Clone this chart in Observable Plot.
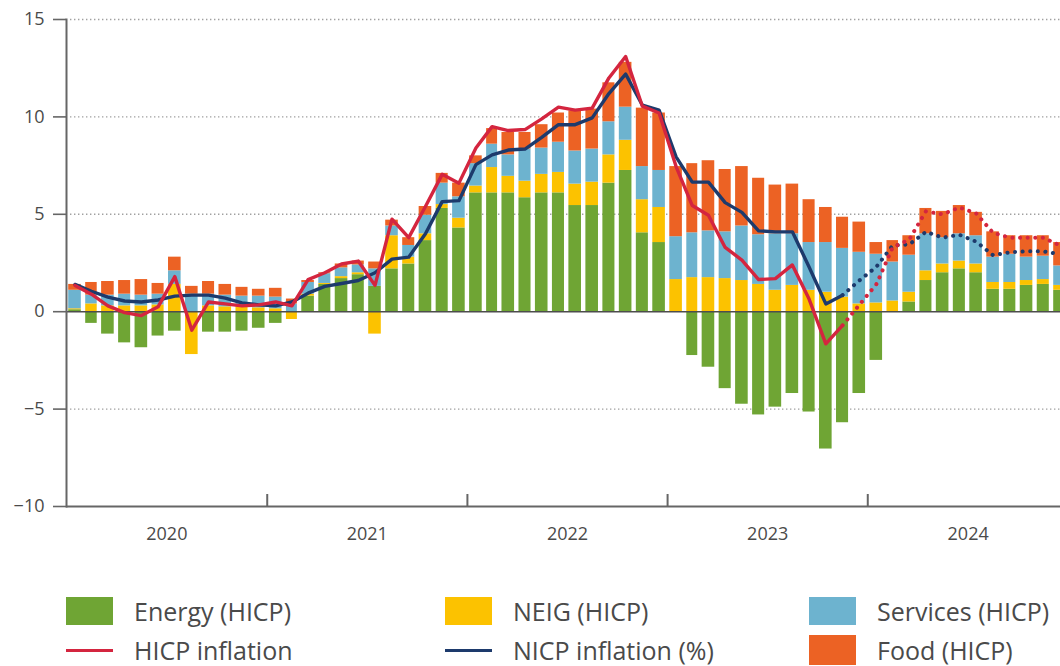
<!DOCTYPE html>
<html><head><meta charset="utf-8">
<script src="https://cdn.jsdelivr.net/npm/d3@7"></script>
<script src="https://cdn.jsdelivr.net/npm/@observablehq/plot@0.6"></script>
<style>
html,body{margin:0;padding:0;background:#fff;overflow:hidden;width:1060px;height:666px;}
#wrap{position:relative;width:1060px;height:666px;font-family:"Open Sans",sans-serif;}
.leg{position:absolute;display:flex;align-items:center;font-size:25px;line-height:1;color:#4a4a4a;white-space:nowrap;height:30px;}
.sw{width:47px;height:28px;margin-right:21px;flex:none;}
.ln{width:47px;height:3px;margin-right:21px;flex:none;}
</style></head><body><div id="wrap"></div>
<script>
// ---- Data (y/y %, contributions in percentage points) ----
const years = ["2020", "2021", "2022", "2023", "2024"];
const yTicks = [-10, -5, 0, 5, 10, 15];
const seriesNames = ["Energy (HICP)", "NEIG (HICP)", "Services (HICP)", "Food (HICP)"];
const seriesColors = ["#6fa534", "#fcc200", "#6db3cf", "#ec6224"];
const lineNames = ["HICP inflation", "NICP inflation (%)"];
const lineColors = ["#d4253f", "#1d3a6c"];
const lastObserved = 46; // Nov 2023: later values are projections (dotted)

const energy = [
  0.1, -0.6, -1.15, -1.6, -1.85, -1.25, -1.0, 0.0, -1.05, -1.05, -1.0, -0.85,
  -0.6, 0.0, 0.8, 1.4, 1.7, 1.9, 1.3, 2.2, 2.45, 3.65, 5.3, 4.3,
  6.1, 6.1, 6.1, 5.85, 6.1, 6.1, 5.45, 5.45, 6.6, 7.25, 4.05, 3.55,
  0.0, -2.25, -2.85, -3.95, -4.75, -5.3, -4.9, -4.2, -5.15, -7.05, -5.7, -4.2,
  -2.5, 0.0, 0.5, 1.6, 2.0, 2.2, 2.0, 1.15, 1.15, 1.35, 1.4, 1.1
];
const neig = [
  0.05, 0.4, 0.3, 0.3, 0.3, 0.35, 1.4, -2.2, 0.3, 0.25, 0.25, 0.2,
  0.15, -0.4, 0.1, 0.05, 0.1, 0.1, -1.15, 1.7, 0.35, 0.35, 0.2, 0.5,
  0.35, 1.3, 0.85, 0.85, 0.95, 1.05, 1.1, 1.2, 1.45, 1.55, 1.7, 1.8,
  1.65, 1.75, 1.75, 1.7, 1.6, 1.4, 1.1, 1.35, 1.1, 1.0, 0.75, 0.4,
  0.45, 0.55, 0.5, 0.5, 0.45, 0.4, 0.45, 0.35, 0.35, 0.25, 0.25, 0.25
];
const services = [
  0.95, 0.45, 0.55, 0.6, 0.55, 0.55, 0.7, 0.9, 0.6, 0.6, 0.55, 0.6,
  0.6, 0.4, 0.6, 0.5, 0.45, 0.4, 0.9, 0.5, 0.6, 0.95, 1.1, 1.1,
  1.15, 1.2, 1.1, 1.65, 1.35, 1.55, 1.7, 1.7, 1.7, 1.7, 1.7, 1.9,
  2.2, 2.3, 2.4, 2.4, 2.8, 2.55, 2.9, 2.65, 2.45, 2.55, 2.5, 2.65,
  2.5, 2.0, 1.9, 1.9, 1.35, 1.4, 1.45, 1.3, 1.45, 1.2, 1.2, 1.0
];
const food = [
  0.3, 0.65, 0.7, 0.7, 0.8, 0.55, 0.7, 0.4, 0.65, 0.55, 0.45, 0.35,
  0.45, 0.25, 0.1, 0.05, 0.2, 0.2, 0.35, 0.3, 0.4, 0.45, 0.5, 0.7,
  0.4, 0.8, 1.15, 0.85, 1.2, 1.5, 2.05, 2.05, 2.0, 2.3, 3.0, 2.95,
  3.6, 3.55, 3.6, 3.2, 3.05, 2.9, 2.5, 2.55, 2.2, 1.8, 1.6, 1.55,
  0.6, 1.1, 1.0, 1.3, 1.35, 1.45, 1.2, 1.3, 0.95, 1.1, 1.05, 1.2
];
const hicp = [
  1.35, 0.9, 0.3, -0.05, -0.2, 0.25, 1.8, -0.95, 0.5, 0.4, 0.3, 0.35,
  0.5, 0.3, 1.65, 2.0, 2.45, 2.6, 1.35, 4.75, 3.8, 5.4, 7.05, 6.6,
  8.4, 9.5, 9.3, 9.35, 9.9, 10.5, 10.35, 10.45, 12.0, 13.1, 10.55, 10.2,
  7.45, 5.45, 4.95, 3.3, 2.65, 1.65, 1.7, 2.4, 0.65, -1.65, -0.7, 0.35,
  1.4, 3.3, 3.7, 5.15, 5.0, 5.35, 5.05, 4.05, 3.8, 3.8, 3.8, 3.4
];
const nicp = [
  1.4, 1.05, 0.75, 0.55, 0.5, 0.6, 0.8, 0.85, 0.85, 0.7, 0.45, 0.35,
  0.3, 0.5, 0.95, 1.3, 1.45, 1.6, 2.0, 2.7, 2.8, 4.0, 5.65, 5.7,
  7.55, 8.05, 8.3, 8.35, 8.95, 9.6, 9.6, 9.95, 11.2, 12.2, 10.6, 10.35,
  7.95, 6.65, 6.65, 5.6, 5.1, 4.15, 4.1, 4.1, 2.3, 0.4, 0.85, 1.6,
  2.3, 3.4, 3.45, 4.1, 3.8, 3.95, 3.6, 2.9, 3.05, 3.1, 3.1, 2.95
];

// ---- Tables built from the arrays ----
const start = new Date(Date.UTC(+years[0], 0, 1));
const end = new Date(Date.UTC(+years[years.length - 1] + 1, 0, 1));
const months = d3.utcMonths(start, end);
const comps = [energy, neig, services, food];
const bars = [];
months.forEach((m, i) => {
  comps.forEach((arr, k) => {
    bars.push({start: m, end: d3.utcMonth.offset(m, 1), series: seriesNames[k], value: arr[i]});
  });
});
const mid = (m) => new Date((+m + +d3.utcMonth.offset(m, 1)) / 2);
const pts = (arr) => months.map((m, i) => ({x: mid(m), y: arr[i], i}));
const hicpPts = pts(hicp), nicpPts = pts(nicp);
const yearStarts = years.slice(1).map(y => new Date(Date.UTC(+y, 0, 1)));
const midYears = years.map(y => new Date((Date.UTC(+y, 0, 1) + Date.UTC(+y + 1, 0, 1)) / 2));

const solid = (p) => p.filter(d => d.i <= lastObserved);
const dotted = (p) => p.filter(d => d.i >= lastObserved);

const chart = Plot.plot({
  width: 1060, height: 560,
  marginLeft: 66, marginRight: 0, marginTop: 19, marginBottom: 54,
  style: {fontFamily: "'Open Sans', sans-serif", background: "transparent", color: "#4a4a4a"},
  x: {type: "utc", domain: [start, end], range: [66, 66 + months.length * 16.7], axis: null},
  y: {domain: [-10, 15], axis: null},
  color: {domain: seriesNames, range: seriesColors},
  marks: [
    Plot.gridY(yTicks.filter(v => v !== 0 && v !== -10), {stroke: "#a0a0a0", strokeOpacity: 1, strokeWidth: 1.4, strokeDasharray: "1.4 2.6", insetLeft: 4}),
    Plot.rectY(bars, {x1: "start", x2: "end", y: "value", fill: "series", insetLeft: 2.2, insetRight: 2.2}),
    Plot.ruleY([0], {stroke: "#4d4d4d", strokeWidth: 1.6}),
    Plot.ruleY([-10], {stroke: "#666", strokeWidth: 2}),
    Plot.ruleX(yearStarts, {stroke: "#666", strokeWidth: 2, insetTop: 475}),
    Plot.frame({anchor: "left", stroke: "#666", strokeWidth: 2}),
    Plot.axisY({ticks: yTicks, tickSize: 13, tickPadding: 9, fontSize: 18, stroke: "#666", strokeWidth: 1.6}),
    Plot.axisX({ticks: midYears, tickSize: 0, tickPadding: 21, fontSize: 18,
      tickFormat: (d) => years[midYears.findIndex(m => +m === +d)]}),
    Plot.line(solid(nicpPts), {x: "x", y: "y", stroke: lineColors[1], strokeWidth: 3.4, strokeLinejoin: "round"}),
    Plot.line(dotted(nicpPts), {x: "x", y: "y", stroke: lineColors[1], strokeWidth: 4, strokeDasharray: "0.1 7.5", strokeLinecap: "round"}),
    Plot.line(solid(hicpPts), {x: "x", y: "y", stroke: lineColors[0], strokeWidth: 3.4, strokeLinejoin: "round"}),
    Plot.line(dotted(hicpPts), {x: "x", y: "y", stroke: lineColors[0], strokeWidth: 4, strokeDasharray: "0.1 7.5", strokeLinecap: "round"})
  ]
});
const wrap = document.getElementById("wrap");
wrap.appendChild(chart);

// ---- Legend (HTML below the SVG) ----
const legendItems = [
  {label: seriesNames[0], color: seriesColors[0], kind: "sw", left: 66, top: 596},
  {label: seriesNames[1], color: seriesColors[1], kind: "sw", left: 445, top: 596},
  {label: seriesNames[2], color: seriesColors[2], kind: "sw", left: 809, top: 596},
  {label: lineNames[0], color: lineColors[0], kind: "ln", left: 66, top: 635},
  {label: lineNames[1], color: lineColors[1], kind: "ln", left: 445, top: 635},
  {label: seriesNames[3], color: seriesColors[3], kind: "sw", left: 809, top: 635}
];
for (const it of legendItems) {
  const d = document.createElement("div");
  d.className = "leg";
  d.style.left = it.left + "px";
  d.style.top = it.top + "px";
  const s = document.createElement("span");
  s.className = it.kind;
  s.style.background = it.color;
  if (it.kind === "sw" && it.top > 620) { s.style.height = "30px"; }
  const t = document.createElement("span");
  t.textContent = it.label;
  d.appendChild(s); d.appendChild(t);
  wrap.appendChild(d);
}
</script></body></html>
